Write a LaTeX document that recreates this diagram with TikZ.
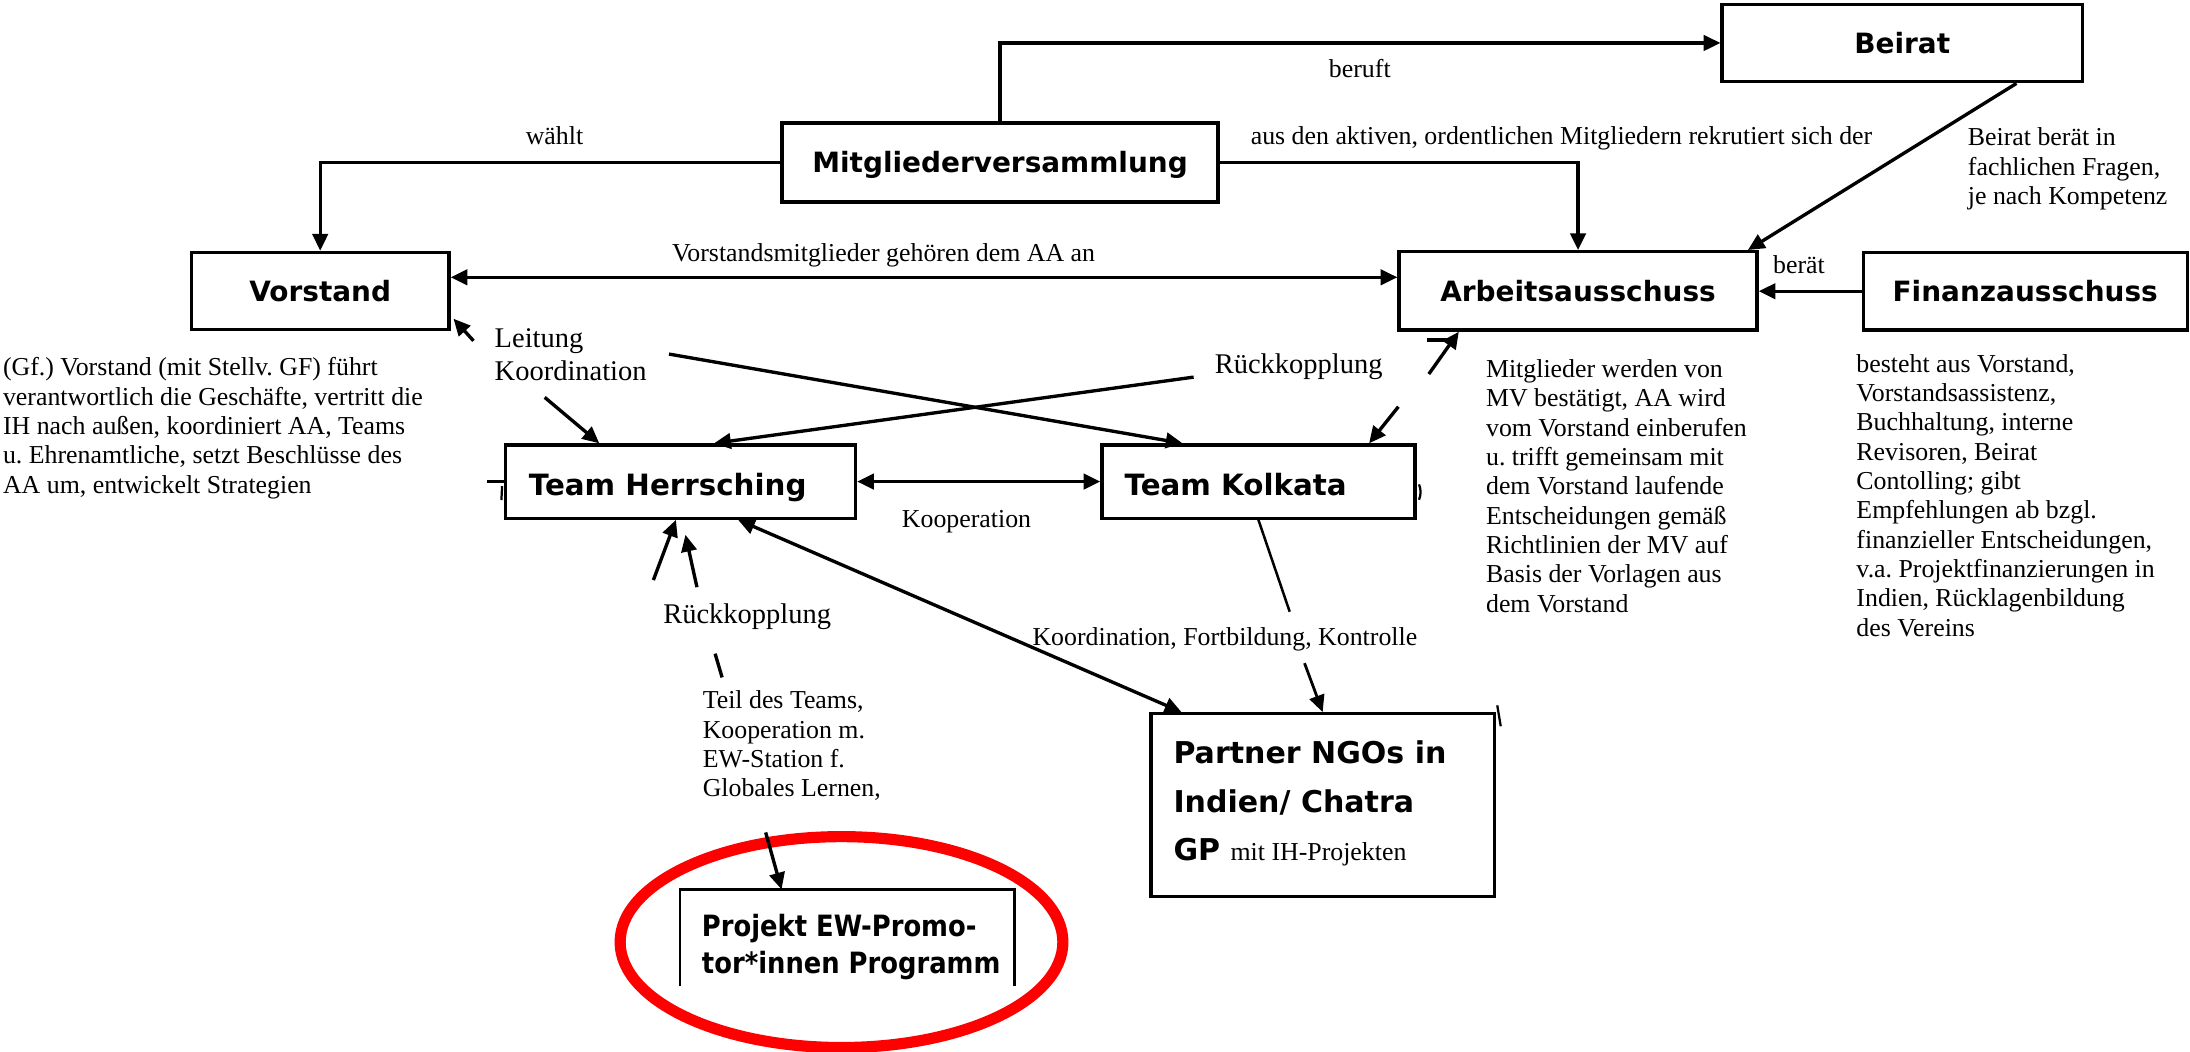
\documentclass[tikz,border=0pt]{standalone}
\usepackage{fontspec}
\setmainfont{Liberation Serif}
\newfontfamily\boxfont{DejaVu Sans}
\newfontfamily\condfont{DejaVu Sans}[FakeStretch=0.88]
\usetikzlibrary{arrows.meta,calc}
\frenchspacing
\begin{document}
\frenchspacing
\begin{tikzpicture}[x=1pt,y=-1pt,
  boxbase/.style={draw,line width=2.4pt,inner sep=0pt},
  boxone/.style={boxbase,font=\boxfont\bfseries\fontsize{20}{24}\selectfont,text height=15pt,text depth=0pt},
  teamlbl/.style={inner sep=0pt,anchor=west,font=\boxfont\bfseries\fontsize{21}{24}\selectfont,text height=15.4pt,text depth=0pt},
  conn/.style={line width=2.4pt},
  arr/.style={conn,-{Triangle[length=12pt,width=11pt]}},
  arrboth/.style={conn,{Triangle[length=12pt,width=11pt]}-{Triangle[length=12pt,width=11pt]}},
  lbl/.style={inner sep=0pt,font=\fontsize{18.5}{21}\selectfont,text height=13pt,text depth=4pt},
  lblbig/.style={inner sep=0pt,font=\fontsize{20.4}{23.5}\selectfont,text height=14.3pt,text depth=4.4pt},
  block/.style={inner sep=0pt,align=left,anchor=west,font=\fontsize{18.5}{21}\selectfont},
  speck/.style={line width=1.6pt},
]
\fill[white] (0,0) rectangle (1568,753);
\useasboundingbox (0,0) rectangle (1568,753);

% red highlight ellipse
\draw[red,line width=8pt] (602.5,674.5) ellipse [x radius=158.5pt, y radius=75.5pt];

% boxes
\node[boxone,minimum width=258pt,minimum height=55.5pt] (beirat) at (1362,30.75) {Beirat};
\node[boxone,minimum width=312pt,minimum height=56.5pt] (mv) at (716,116.25) {Mitgliederversammlung};
\node[boxone,minimum width=184.5pt,minimum height=55.3pt] (vorstand) at (229.25,208.35) {Vorstand};
\node[boxone,minimum width=256.3pt,minimum height=56.1pt] (aa) at (1129.85,208.25) {Arbeitsausschuss};
\node[boxone,minimum width=232pt,minimum height=55.6pt] (finanz) at (1450,208.5) {Finanzausschuss};
\node[boxbase,minimum width=250.5pt,minimum height=52.4pt] (herr) at (487.25,344.8) {};
\node[teamlbl] (herrlbl) at (378.5,347.3) {Team Herrsching};
\node[boxbase,minimum width=224pt,minimum height=52.4pt] (kolk) at (901,344.8) {};
\node[teamlbl] (kolklbl) at (805,347.3) {Team Kolkata};
\node[boxbase,minimum width=246pt,minimum height=131pt] (partner) at (947,576.5) {};
\node[inner sep=0pt,align=left,anchor=west,font=\boxfont\bfseries\fontsize{21.5}{34.5}\selectfont] (ptext) at (840,575.2)
  {Partner NGOs in\\Indien/ Chatra\\GP {\rmfamily\mdseries\fontsize{18.5}{34.5}\selectfont mit IH-Projekten}};
\node[inner sep=0pt,minimum width=239pt,minimum height=69pt] (projekt) at (606.5,671.5) {};
\draw[line width=1.9pt] (projekt.south west) -- (projekt.north west) -- (projekt.north east) -- (projekt.south east);
\node[inner sep=0pt,align=left,anchor=west,font=\condfont\bfseries\fontsize{21}{27}\selectfont] (projtext) at (502.4,678)
  {Projekt EW-Promo-\\tor*innen Programm};

% connectors
\draw[arr] (mv.north) |- (beirat.west);
\draw[arr] (mv.west) -| (vorstand.north);
\draw[arr] (mv.east) -| (aa.north);
\draw[arr] ($(beirat.south west)!0.814!(beirat.south east)$) -- ($(aa.north west)!0.97!(aa.north east)$);
\coordinate (cVAA) at ($(vorstand.north east)!0.33!(vorstand.south east)$);
\draw[arrboth] (cVAA) -- (aa.west |- cVAA);
\draw[arr] (finanz.west) -- (aa.east |- finanz.west);

\coordinate (cLV) at (339,244);
\draw[arr] (cLV) -- ($(vorstand.south east)+(2,-9)$);
\coordinate (cLH) at (390,284.5);
\draw[arr] (cLH) -- ($(herr.north west)!0.27!(herr.north east)$);
\coordinate (cLK) at (479,253.5);
\draw[arr] (cLK) -- ($(kolk.north west)!0.26!(kolk.north east)$);
\coordinate (cRH) at (854.6,270);
\draw[arr] (cRH) -- ($(herr.north west)!0.595!(herr.north east)$);
\coordinate (cRA) at (1023,267.8);
\draw[arr] (cRA) -- ($(aa.south west)!0.17!(aa.south east)$);
\draw[conn] (1022,243.5) -- (1037,243.5);
\coordinate (cRK) at (1001.2,291.2);
\draw[arr] (cRK) -- ($(kolk.north west)!0.85!(kolk.north east)$);
\draw[arrboth] (herr.east) -- (kolk.west);

\coordinate (cRB1) at (467.8,415.3);
\draw[arr] (cRB1) -- ($(herr.south west)!0.487!(herr.south east)$);
\coordinate (cRB2) at (499,420.4);
\draw[arr] (cRB2) -- ($(herr.south)+(3.5,10.7)$);
\coordinate (cTK1) at (512,468);
\coordinate (cTK2) at (517,485);
\draw[conn] (cTK1) -- (cTK2);
\coordinate (cPE) at (548.2,596);
\draw[arr] (cPE) -- ($(projekt.north west)!0.304!(projekt.north east)$);
\draw[arrboth] ($(herr.south west)!0.663!(herr.south east)$) -- ($(partner.north west)!0.093!(partner.north east)$);
\coordinate (cKP1) at (923.4,438);
\draw[conn,line width=1.8pt] (kolk.south) -- (cKP1);
\coordinate (cKP2) at (934,474.8);
\draw[arr,line width=2pt] (cKP2) -- (partner.north);

% small stray strokes
\draw[speck] (herr.west) -- ++(-12,0);
\draw[speck] (359.5,348) -- (359,358);
\draw[speck] ($(kolk.east)+(1.8,2)$) to[bend left=20] ($(kolk.east)+(1.8,13)$);
\draw[speck] (1072,505) -- (1074.5,520);

% labels
\node[lbl] (wlbl) at (397,99) {wählt};
\node[lbl] (blbl) at (973.6,50.8) {beruft};
\node[lbl] (albl) at (1118,99) {aus den aktiven, ordentlichen Mitgliedern rekrutiert sich der};
\node[lbl,anchor=west] (vlbl) at (481,183) {Vorstandsmitglieder gehören dem AA an};
\node[lbl] (berlbl) at (1288,191) {berät};
\node[block,font=\fontsize{20.4}{23.5}\selectfont] (leit) at (354,253.9) {Leitung\\Koordination};
\node[lblbig] (rklbl1) at (929.8,262.5) {Rückkopplung};
\node[lbl] (koop) at (692,373.5) {Kooperation};
\node[lblbig] (rklbl2) at (535,441.5) {Rückkopplung};
\node[lbl] (kfk) at (877,458) {Koordination, Fortbildung, Kontrolle};

% text blocks
\node[block] (vtext) at (2,306.5) {(Gf.) Vorstand (mit Stellv. GF) führt\\verantwortlich die Geschäfte, vertritt die\\IH nach außen, koordiniert AA, Teams\\u. Ehrenamtliche, setzt Beschlüsse des\\AA um, entwickelt Strategien};
\node[block] (aatext) at (1063.8,347.9) {Mitglieder werden von\\MV bestätigt, AA wird\\vom Vorstand einberufen\\u. trifft gemeinsam mit\\dem Vorstand laufende\\Entscheidungen gemäß\\Richtlinien der MV auf\\Basis der Vorlagen aus\\dem Vorstand};
\node[block] (ftext) at (1329,354.7) {besteht aus Vorstand,\\Vorstandsassistenz,\\Buchhaltung, interne\\Revisoren, Beirat\\Contolling; gibt\\Empfehlungen ab bzgl.\\finanzieller Entscheidungen,\\v.a. Projektfinanzierungen in\\Indien, Rücklagenbildung\\des Vereins};
\node[block] (btext) at (1408.8,120.9) {Beirat berät in\\fachlichen Fragen,\\je nach Kompetenz};
\node[block] (ttext) at (503,534) {Teil des Teams,\\Kooperation m.\\EW-Station f.\\Globales Lernen,};
\end{tikzpicture}
\end{document}
